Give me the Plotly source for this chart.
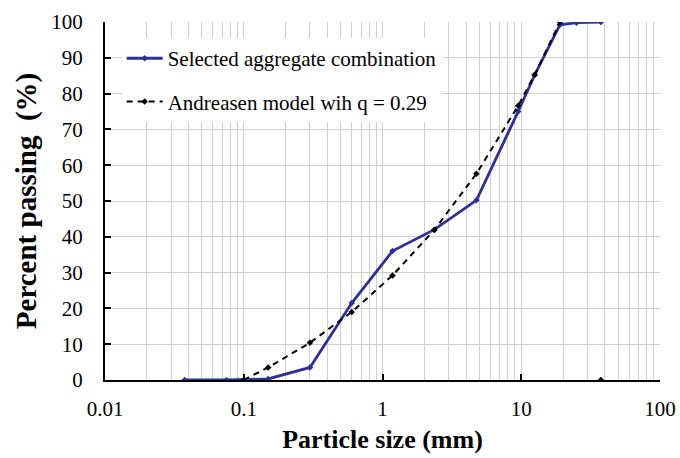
import plotly.graph_objects as go

sizes_sel = [0.0375, 0.075, 0.15, 0.3, 0.6, 1.18, 2.36, 4.75, 9.5, 12.5, 19, 25, 37.5]
pass_sel = [0, 0, 0.3, 3.5, 21.5, 36, 42, 50.2, 75, 85.2, 99.2, 99.8, 100]

sizes_and = [0.1, 0.15, 0.3, 0.6, 1.18, 2.36, 4.75, 9.5, 12.5, 19, None, 37.5]
pass_and = [0, 3.5, 10.4, 19, 29.2, 41.9, 57.6, 76.6, 85.3, 100, None, 0]

x_tickvals = [0.01, 0.1, 1, 10, 100]
x_ticktext = ["0.01", "0.1", "1", "10", "100"]

serif = "Liberation Serif, Times New Roman, serif"
blue = "#2e3192"
grid = "#cfcfcf"

fig = go.Figure()
fig.add_trace(go.Scatter(
    x=sizes_sel, y=pass_sel, mode="lines+markers",
    name="Selected aggregate combination", legendgroup="a",
    line=dict(color=blue, width=2.8),
    marker=dict(symbol="diamond", size=5, color=blue),
))
fig.add_trace(go.Scatter(
    x=sizes_and, y=pass_and, mode="lines+markers",
    name="Andreasen model wih q = 0.29", legendgroup="b",
    line=dict(color="black", width=2, dash="6px,5px"),
    marker=dict(symbol="diamond", size=5, color="black"),
    connectgaps=False,
))

fig.update_layout(
    width=680, height=458,
    margin=dict(l=105, r=20, t=22, b=78),
    paper_bgcolor="white", plot_bgcolor="white",
    font=dict(family=serif, size=21, color="black"),
    showlegend=True,
    legend=dict(
        x=0.03, y=0.955, xanchor="left", yanchor="top",
        bgcolor="white", borderwidth=0,
        font=dict(family=serif, size=21, color="black"),
        tracegroupgap=13, itemwidth=36,
    ),
    xaxis=dict(
        type="log", range=[-2, 2], automargin=False,
        tickvals=x_tickvals, ticktext=x_ticktext,
        tickfont=dict(size=21),
        showgrid=True, gridcolor=grid, gridwidth=1.2,
        minor=dict(dtick="D1", showgrid=True, gridcolor=grid, gridwidth=1.2, ticks=""),
        showline=True, linecolor="black", linewidth=2,
        ticks="inside", ticklen=6, tickcolor="black", tickwidth=1.5,
        ticklabelstandoff=9,
        zeroline=False,
        title=dict(text="<b>Particle size (mm)</b>", font=dict(family=serif, size=26), standoff=10),
    ),
    yaxis=dict(
        range=[0, 100], dtick=10, automargin=False,
        tickfont=dict(size=21),
        showgrid=True, gridcolor=grid, gridwidth=1.2,
        showline=True, linecolor="black", linewidth=2,
        ticks="inside", ticklen=6, tickcolor="black", tickwidth=1.5,
        ticklabelstandoff=16,
        zeroline=False,
        title=dict(text="<b>Percent passing  (%)</b>", font=dict(family=serif, size=29), standoff=6),
    ),
)

fig.write_html("out.html")
